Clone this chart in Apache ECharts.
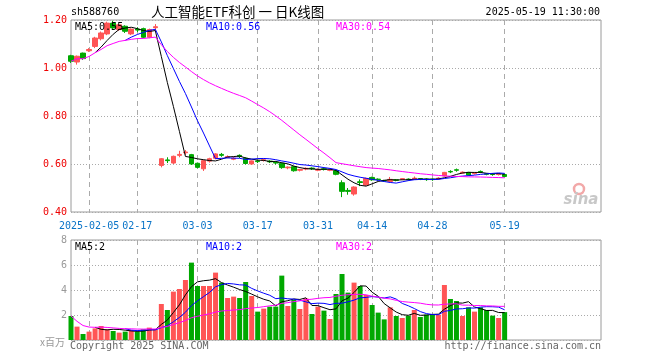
<!DOCTYPE html>
<html><head><meta charset="utf-8">
<script src="https://cdn.jsdelivr.net/npm/echarts@6/dist/echarts.min.js"></script>
<style>html,body{margin:0;padding:0;background:#fff}#c{width:660px;height:360px}</style>
</head><body><div id="c"></div>
<script>
const dates = ['2025-01-23','2025-01-24','2025-01-27','2025-02-05','2025-02-06','2025-02-07','2025-02-10','2025-02-11','2025-02-12','2025-02-13','2025-02-14','2025-02-17','2025-02-18','2025-02-19','2025-02-20','2025-02-21','2025-02-24','2025-02-25','2025-02-26','2025-02-27','2025-02-28','2025-03-03','2025-03-04','2025-03-05','2025-03-06','2025-03-07','2025-03-10','2025-03-11','2025-03-12','2025-03-13','2025-03-14','2025-03-17','2025-03-18','2025-03-19','2025-03-20','2025-03-21','2025-03-24','2025-03-25','2025-03-26','2025-03-27','2025-03-28','2025-03-31','2025-04-01','2025-04-02','2025-04-03','2025-04-07','2025-04-08','2025-04-09','2025-04-10','2025-04-11','2025-04-14','2025-04-15','2025-04-16','2025-04-17','2025-04-18','2025-04-21','2025-04-22','2025-04-23','2025-04-24','2025-04-25','2025-04-28','2025-04-29','2025-04-30','2025-05-06','2025-05-07','2025-05-08','2025-05-09','2025-05-12','2025-05-13','2025-05-14','2025-05-15','2025-05-16','2025-05-19'];
const opens  = [1.051,1.025,1.062,1.072,1.090,1.122,1.142,1.187,1.160,1.174,1.142,1.162,1.164,1.128,1.168,0.594,0.617,0.604,0.636,0.647,0.639,0.603,0.580,0.612,0.624,0.640,0.627,0.620,0.636,0.624,0.600,0.613,0.615,0.612,0.607,0.603,0.584,0.589,0.574,0.579,0.583,0.574,0.580,0.574,0.572,0.522,0.490,0.475,0.526,0.512,0.544,0.537,0.531,0.527,0.534,0.536,0.537,0.538,0.539,0.537,0.537,0.538,0.550,0.569,0.576,0.562,0.565,0.560,0.569,0.559,0.558,0.556,0.556];
const closes = [1.028,1.049,1.039,1.077,1.125,1.146,1.187,1.167,1.180,1.153,1.162,1.158,1.128,1.160,1.172,0.622,0.614,0.632,0.640,0.650,0.600,0.586,0.614,0.622,0.642,0.636,0.631,0.624,0.632,0.602,0.613,0.610,0.618,0.609,0.604,0.585,0.587,0.572,0.577,0.582,0.580,0.577,0.577,0.576,0.557,0.486,0.486,0.504,0.523,0.540,0.534,0.535,0.529,0.536,0.532,0.539,0.535,0.541,0.537,0.535,0.535,0.541,0.565,0.567,0.574,0.566,0.554,0.563,0.567,0.557,0.556,0.558,0.548];
const lows   = [1.021,1.014,1.034,1.067,1.083,1.115,1.137,1.162,1.155,1.146,1.137,1.150,1.124,1.124,1.155,0.586,0.604,0.600,0.628,0.638,0.596,0.582,0.571,0.606,0.620,0.630,0.624,0.616,0.625,0.598,0.597,0.604,0.610,0.604,0.598,0.580,0.578,0.568,0.569,0.574,0.575,0.570,0.573,0.570,0.553,0.462,0.472,0.468,0.508,0.508,0.530,0.530,0.525,0.524,0.528,0.533,0.531,0.535,0.533,0.530,0.530,0.535,0.548,0.562,0.568,0.560,0.551,0.556,0.562,0.553,0.551,0.552,0.546];
const highs  = [1.055,1.052,1.064,1.083,1.130,1.152,1.193,1.197,1.184,1.178,1.165,1.170,1.168,1.164,1.183,0.625,0.628,0.635,0.655,0.658,0.642,0.606,0.618,0.626,0.645,0.646,0.636,0.630,0.640,0.628,0.615,0.617,0.623,0.616,0.611,0.606,0.590,0.592,0.580,0.586,0.586,0.582,0.583,0.580,0.575,0.532,0.500,0.507,0.536,0.543,0.547,0.540,0.534,0.546,0.537,0.541,0.540,0.548,0.541,0.540,0.540,0.545,0.567,0.574,0.581,0.569,0.567,0.566,0.573,0.562,0.561,0.561,0.558];
const volumes = [1.92,1.07,0.48,0.67,0.93,1.12,0.85,0.72,0.59,0.67,0.80,0.67,0.85,0.99,0.85,2.88,2.40,3.87,4.08,4.80,6.19,4.32,4.32,4.32,5.39,4.59,3.36,3.47,3.36,4.64,3.52,2.27,2.51,2.67,2.67,5.15,2.72,3.20,2.48,3.33,2.08,2.67,2.35,1.68,3.68,5.28,3.79,4.59,4.32,3.60,2.80,2.19,1.65,2.61,1.92,1.76,1.95,2.40,1.84,2.03,2.03,2.03,4.40,3.28,3.12,1.92,2.61,2.27,2.61,2.40,1.95,1.76,2.23];
const tickDates = ['2025-02-05','2025-02-17','2025-03-03','2025-03-17','2025-03-31','2025-04-14','2025-04-28','2025-05-19'];
const tickLabels = ['2025-02-05','02-17','03-03','03-17','03-31','04-14','04-28','05-19'];
const priceTicks = [0.40,0.60,0.80,1.00,1.20];
const volTicks = [0,2,4,6,8];
const priceLegend = ['MA5:0.55','MA10:0.56','MA30:0.54'];
const volLegend = ['MA5:2','MA10:2','MA30:2'];
const padCount = 16;

const UP = '#ff5555', DOWN = '#00a800';
const MONO = 'DejaVu Sans Mono';
const cats = dates.concat(Array.from({length: padCount}, (_, k) => ' '.repeat(k + 1)));
const tickIdx = tickDates.map(d => dates.indexOf(d));
const isTick = (i) => tickIdx.indexOf(i) >= 0;

function ma(arr, n, full) {
  return arr.map((_, i) => {
    if (full && i < n - 1) return null;
    const s = Math.max(0, i - n + 1);
    let sum = 0; for (let j = s; j <= i; j++) sum += arr[j];
    return +(sum / (i - s + 1)).toFixed(4);
  });
}
const candle = dates.map((d, i) => [opens[i], closes[i], lows[i], highs[i]]);
const volData = volumes.map((v, i) => ({value: v, itemStyle: {color: closes[i] >= opens[i] ? UP : DOWN}}));

const chart = echarts.init(document.getElementById('c'), null, {renderer: 'canvas'});
const gridL = 71, gridW = 530;
const xCommon = {
  type: 'category', data: cats, boundaryGap: false,
  axisLine: {show: false}, axisTick: {show: false},
  splitLine: {show: true, interval: (i) => isTick(i), lineStyle: {color: '#aaa', type: [5, 4], width: 1}}
};
const lineS = (name, data, color, xi, yi) => ({
  type: 'line', name, data, xAxisIndex: xi, yAxisIndex: yi, symbol: 'none', smooth: false,
  lineStyle: {color, width: 1}, itemStyle: {color}, silent: true, animation: false, connectNulls: false, z: 5
});
const txt = (x, y, t, color, font, align) => ({
  type: 'text', x, y, style: {text: t, fill: color, font: font || ('10px ' + MONO), textAlign: align || 'left', textVerticalAlign: 'middle'}, z: 100
});

chart.setOption({
  animation: false,
  backgroundColor: '#fff',
  grid: [
    {left: gridL, top: 20, width: gridW, height: 192, show: true, borderColor: '#9a9a9a', borderWidth: 1, backgroundColor: 'transparent'},
    {left: gridL, top: 240, width: gridW, height: 100, show: true, borderColor: '#9a9a9a', borderWidth: 1, backgroundColor: 'transparent'}
  ],
  xAxis: [
    Object.assign({}, xCommon, {gridIndex: 0,
      axisLabel: {show: true, interval: (i) => isTick(i), margin: 9, color: '#0a74c8', fontFamily: MONO, fontSize: 10,
        formatter: (v) => { const k = tickDates.indexOf(v); return k >= 0 ? tickLabels[k] : ''; }}}),
    Object.assign({}, xCommon, {gridIndex: 1, axisLabel: {show: false}})
  ],
  yAxis: [
    {type: 'value', gridIndex: 0, min: priceTicks[0], max: priceTicks[priceTicks.length - 1], interval: 0.2,
      axisLine: {show: false}, axisTick: {show: false},
      axisLabel: {color: '#ee0000', fontFamily: MONO, fontSize: 10, margin: 4, formatter: (v) => v.toFixed(2)},
      splitLine: {show: true, lineStyle: {color: '#aaa', type: [1, 2]}}},
    {type: 'value', gridIndex: 1, min: volTicks[0], max: volTicks[volTicks.length - 1], interval: 2,
      axisLine: {show: false}, axisTick: {show: false},
      axisLabel: {color: '#999', fontFamily: MONO, fontSize: 10, margin: 4, formatter: (v) => v === 0 ? '' : String(v)},
      splitLine: {show: true, lineStyle: {color: '#aaa', type: [1, 2]}}}
  ],
  series: [
    {type: 'candlestick', xAxisIndex: 0, yAxisIndex: 0, data: candle, barWidth: 5, clip: false,
      itemStyle: {color: UP, color0: DOWN, borderColor: UP, borderColor0: DOWN, borderWidth: 1}, z: 3},
    lineS('MA5', ma(closes, 5, true), '#000000', 0, 0),
    lineS('MA10', ma(closes, 10, true), '#0000ff', 0, 0),
    lineS('MA30', ma(closes, 30, false), '#ff00ff', 0, 0),
    {type: 'bar', xAxisIndex: 1, yAxisIndex: 1, data: volData, barWidth: 5, clip: false, z: 3},
    lineS('VMA5', ma(volumes, 5, true), '#000000', 1, 1),
    lineS('VMA10', ma(volumes, 10, true), '#0000ff', 1, 1),
    lineS('VMA30', ma(volumes, 30, false), '#ff00ff', 1, 1)
  ],
  graphic: [
    txt(71, 12, 'sh588760', '#000'),
    txt(151, 12, '人工智能ETF科创 一 日K线图', '#000', '13.5px "Noto Sans CJK SC"'),
    txt(600, 12, '2025-05-19 11:30:00', '#000', null, 'right'),
    txt(75, 27, priceLegend[0], '#000'),
    txt(206, 27, priceLegend[1], '#0000ff'),
    txt(336, 27, priceLegend[2], '#ff00ff'),
    txt(75, 247, volLegend[0], '#000'),
    txt(206, 247, volLegend[1], '#0000ff'),
    txt(336, 247, volLegend[2], '#ff00ff'),
    txt(40, 342, 'x百万', '#999', '10px "Noto Sans CJK SC"'),
    txt(70, 346, 'Copyright 2025 SINA.COM', '#666'),
    txt(601, 346, 'http://finance.sina.com.cn', '#666', null, 'right'),
    {type: 'circle', shape: {cx: 579, cy: 189, r: 5}, style: {fill: 'none', stroke: '#f2a8a8', lineWidth: 2.5}, z: 1},
    txt(581, 200, 'sina', '#c8c8c8', 'italic bold 15px "DejaVu Sans"', 'center')
  ]
});
</script></body></html>
